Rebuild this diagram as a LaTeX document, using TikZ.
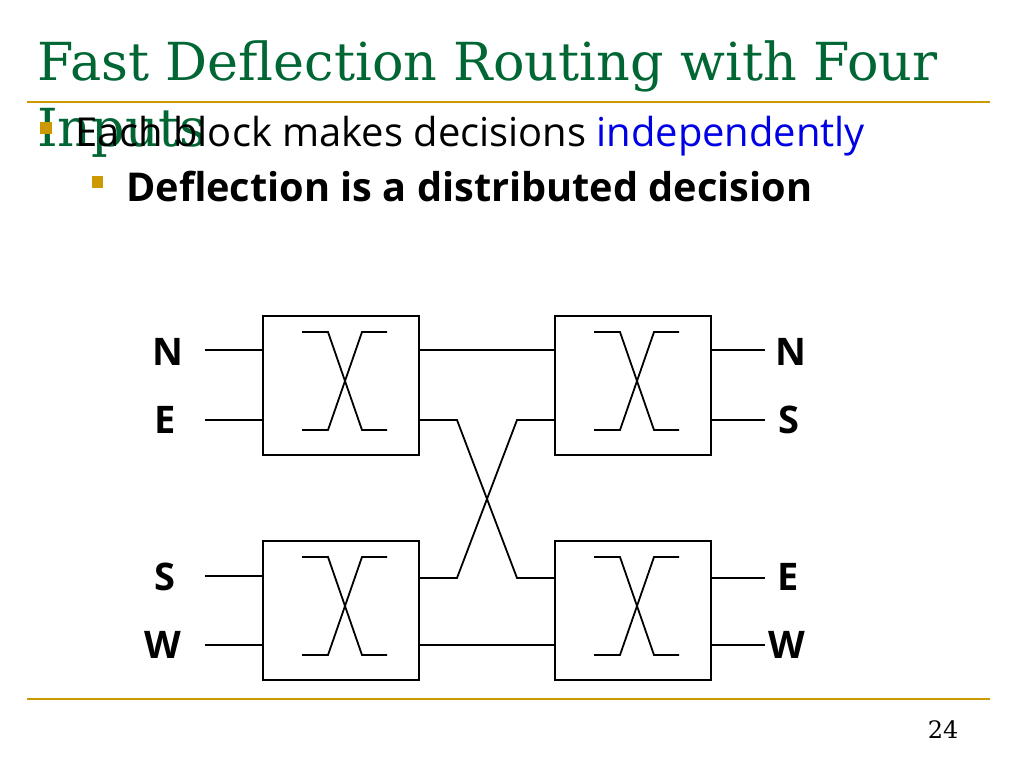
\documentclass[tikz,border=0pt]{standalone}
\usepackage{fontspec}
\setmainfont{Open Sans}
\newfontfamily\titlefont{DejaVu Serif}
\usetikzlibrary{calc}
\usepackage{xcolor}
\definecolor{titlegreen}{RGB}{0,102,51}
\definecolor{rulegold}{RGB}{204,153,0}
\definecolor{indblue}{RGB}{0,0,230}
\tikzset{
  block/.style={draw, line width=2pt, minimum width=156pt, minimum height=139pt, inner sep=0pt},
  wire/.style={line width=1.8pt},
  port/.style={font=\fontsize{38}{40}\selectfont\bfseries}
}
\newcommand{\xmark}[1]{%
  \draw[wire] ($(#1.north west)+(40,17)$) -- ($(#1.north west)+(66,17)$)
    -- ($(#1.north west)+(100,115)$) -- ($(#1.north west)+(125,115)$);
  \draw[wire] ($(#1.north west)+(40,115)$) -- ($(#1.north west)+(66,115)$)
    -- ($(#1.north west)+(100,17)$) -- ($(#1.north west)+(125,17)$);
}
\begin{document}
\begin{tikzpicture}[x=1pt,y=-1pt]
        \useasboundingbox (0,0) rectangle (1024,768);

        % Title and rules
        \node[anchor=base west, inner sep=0pt, text=titlegreen, font=\titlefont\fontsize{52.4}{56}\selectfont] (title) at (37,80) {Fast Deflection Routing with Four};
        \node[anchor=base west, inner sep=0pt, text=titlegreen, font=\titlefont\fontsize{52.4}{56}\selectfont] (title2) at (37,146) {Inputs};
        \draw[rulegold, line width=2pt] (27,102) -- (990,102);
        \draw[rulegold, line width=2pt] (27,699) -- (990,699);
        \node[anchor=base east, font=\titlefont\fontsize{24}{26}\selectfont] (page) at (962,738) {24};

        % Bullets
        \fill[rulegold] (40,122) rectangle (52,134);
        \node[anchor=base west, inner sep=0pt, font=\fontsize{39.9}{44}\selectfont] (b1) at (75,146) {Each block makes decisions \textcolor{indblue}{independently}};
        \fill[rulegold] (92,176) rectangle (103,188);
        \node[anchor=base west, inner sep=0pt, font=\fontsize{39.7}{44}\selectfont\bfseries] (b2) at (126,201) {Deflection is a distributed decision};

        % Blocks
        \node[block, anchor=north west] (tl) at (262,315) {};
        \node[block, anchor=north west] (tr) at (554,315) {};
        \node[block, anchor=north west] (bl) at (262,540) {};
        \node[block, anchor=north west] (br) at (554,540) {};
        \foreach \b in {tl,tr,bl,br} { \xmark{\b} }

        % Ports
        \node[port] (inN) at (168,352) {N};
        \node[port] (inE) at (165,420) {E};
        \node[port] (inS) at (165,577) {S};
        \node[port] (inW) at (163,645) {W};
        \node[port] (outN) at (791,352) {N};
        \node[port] (outS) at (789,420) {S};
        \node[port] (outE) at (788,577) {E};
        \node[port] (outW) at (787,645) {W};

        \coordinate (a1) at (205,350); \coordinate (a2) at (205,420);
        \coordinate (a3) at (205,576); \coordinate (a4) at (205,645);
        \coordinate (z1) at (765,350); \coordinate (z2) at (765,420);
        \coordinate (z3) at (765,578); \coordinate (z4) at (765,645);
        \draw[wire] (a1) -- (a1 -| tl.west);
        \draw[wire] (a2) -- (a2 -| tl.west);
        \draw[wire] (a3) -- (a3 -| bl.west);
        \draw[wire] (a4) -- (a4 -| bl.west);
        \draw[wire] (z1 -| tr.east) -- (z1);
        \draw[wire] (z2 -| tr.east) -- (z2);
        \draw[wire] (z3 -| br.east) -- (z3);
        \draw[wire] (z4 -| br.east) -- (z4);

        % Links between stages
        \draw[wire] (a1 -| tl.east) -- (a1 -| tr.west);
        \draw[wire] (a4 -| bl.east) -- (a4 -| br.west);
        \draw[wire] (a2 -| tl.east) -- (457,420) -- (517,578) -- (z3 -| br.west);
        \draw[wire] (z3 -| bl.east) -- (457,578) -- (517,420) -- (a2 -| tr.west);
\end{tikzpicture}
\end{document}
